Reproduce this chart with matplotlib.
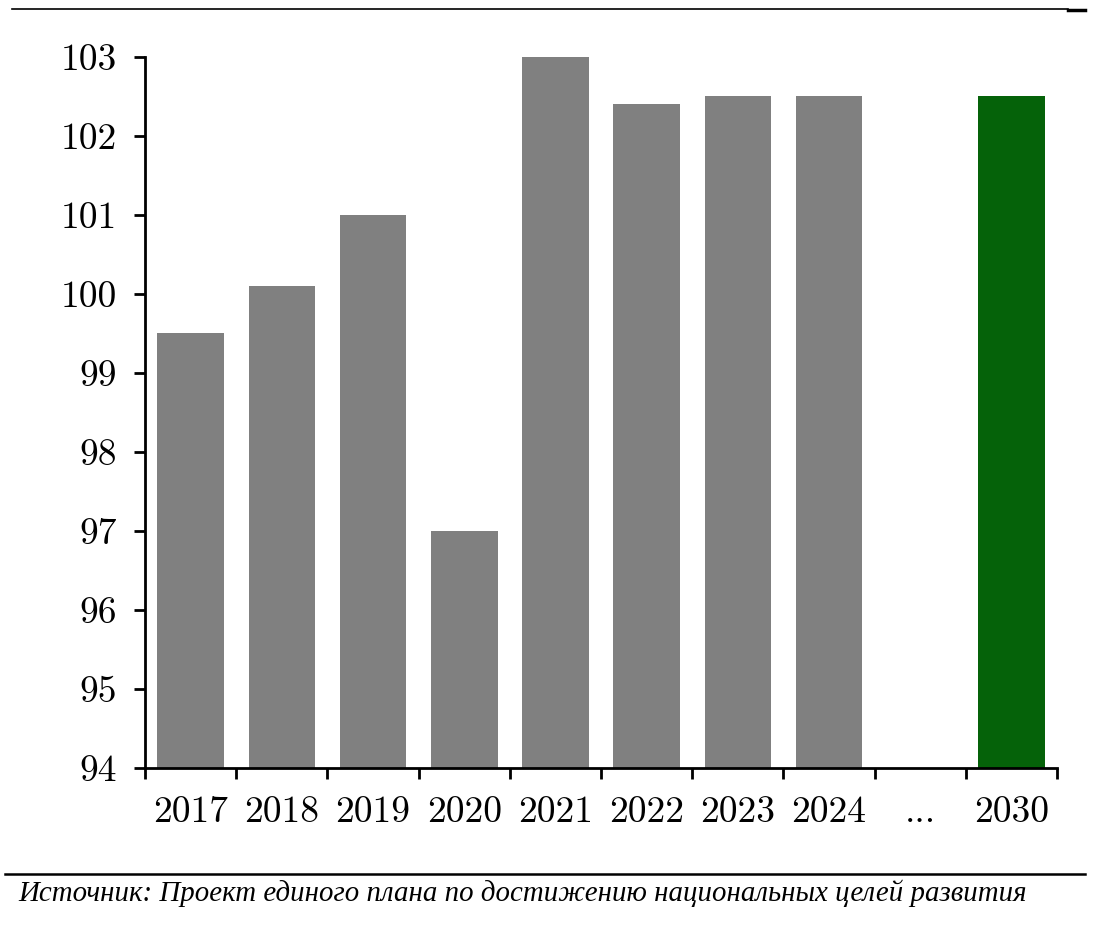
import matplotlib
matplotlib.use("Agg")
import matplotlib.pyplot as plt
from matplotlib.lines import Line2D

# Chart data
years = ["2017", "2018", "2019", "2020", "2021", "2022", "2023", "2024", "...", "2030"]
values = [99.5, 100.1, 101.0, 97.0, 103.0, 102.4, 102.5, 102.5, None, 102.5]
bar_colors = ["#808080"] * 8 + ["none", "#056209"]
yticks = [94, 95, 96, 97, 98, 99, 100, 101, 102, 103]
source = "Источник: Проект единого плана по достижению национальных целей развития"

plt.rcParams["font.family"] = ["cmr10", "DejaVu Serif"]
plt.rcParams["axes.formatter.use_mathtext"] = True

fig = plt.figure(figsize=(11.03, 9.32), dpi=100)
ax = fig.add_axes([0.1315, 0.176, 0.8268, 0.7629])

base = 94
for i, (v, c) in enumerate(zip(values, bar_colors)):
    if v is None:
        continue
    ax.bar(i, v - base, bottom=base, width=0.73, color=c, zorder=2)

ax.set_xlim(-0.5, len(years) - 0.5)
ax.set_ylim(94, 103)
ax.set_yticks(yticks)
ax.set_yticklabels([str(t) for t in yticks])

# category labels centred, ticks on the boundaries
ax.set_xticks(range(len(years)))
ax.set_xticklabels(years)
ax.set_xticks([i - 0.5 for i in range(len(years) + 1)], minor=True)
ax.tick_params(axis="x", which="major", length=0, pad=20, labelsize=27)
ax.tick_params(axis="x", which="minor", length=8, width=2, direction="out")
ax.tick_params(axis="y", length=8, width=2, direction="out", pad=12, labelsize=27)

for s in ["top", "right"]:
    ax.spines[s].set_visible(False)
for s in ["left", "bottom"]:
    ax.spines[s].set_linewidth(2)

# frame lines of the source figure
fig.add_artist(Line2D([12 / 1103, 1068 / 1103], [1 - 9 / 932, 1 - 9 / 932],
                      color="black", lw=1.2, transform=fig.transFigure))
fig.add_artist(Line2D([1068 / 1103, 1085 / 1103], [1 - 10 / 932, 1 - 10 / 932],
                      color="black", lw=2.5, transform=fig.transFigure))
fig.add_artist(Line2D([5 / 1103, 1085 / 1103], [1 - 874 / 932, 1 - 874 / 932],
                      color="black", lw=1.8, transform=fig.transFigure))

fig.text(18 / 1103, 1 - 893 / 932, source, family=["Liberation Serif", "DejaVu Serif"],
         style="italic", fontsize=20.8, va="center", ha="left")

fig.savefig("out.png", dpi=100)
